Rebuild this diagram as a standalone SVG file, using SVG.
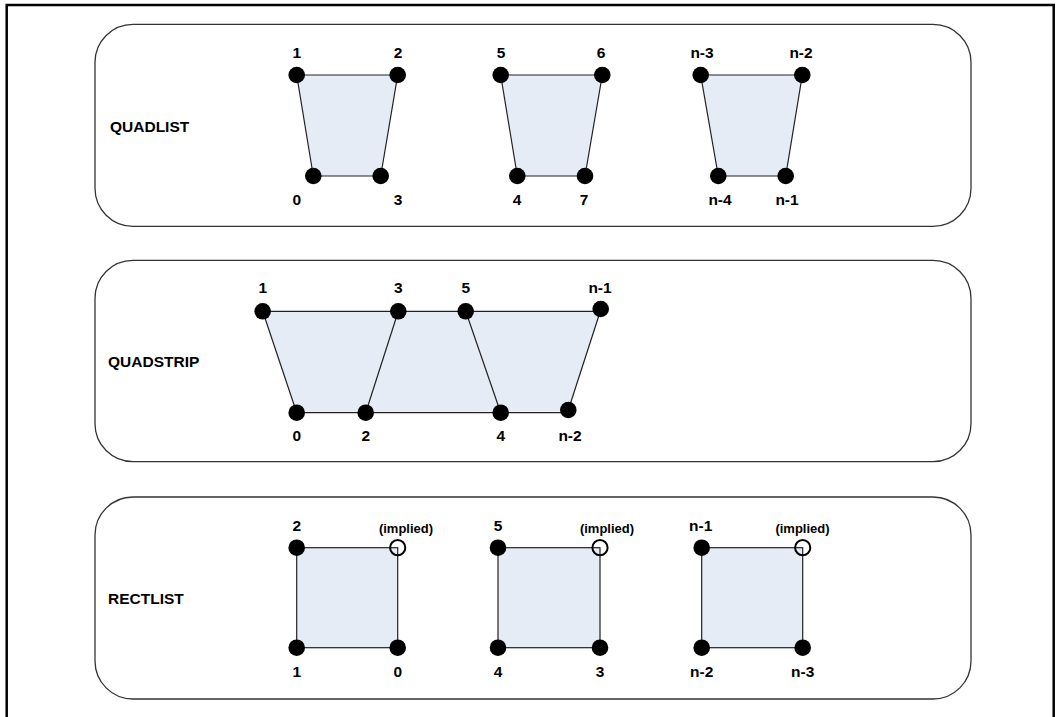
<svg xmlns="http://www.w3.org/2000/svg" width="1060" height="717" viewBox="0 0 1060 717">
<style>
.panel{fill:#fff;stroke:#333;stroke-width:1.3}
.face{fill:#e6ecf6;stroke:none}
.edge{stroke:#222;stroke-width:1.2;fill:none}
.v{fill:#000}
.imp{fill:none;stroke:#000;stroke-width:2}
.t{font-family:"Liberation Sans",Arial,sans-serif;font-weight:bold;font-size:15.5px;fill:#000;text-anchor:middle}
.ts{font-family:"Liberation Sans",Arial,sans-serif;font-weight:bold;font-size:13px;fill:#000;text-anchor:middle}
.title{font-family:"Liberation Sans",Arial,sans-serif;font-weight:bold;font-size:15.5px;fill:#000}
</style>
<rect x="0" y="0" width="1060" height="717" fill="#fff"/>
<rect x="6.7" y="5" width="1047" height="730" fill="none" stroke="#000" stroke-width="2.5"/>

<g id="panels">
<rect class="panel" x="95" y="24.3" width="876" height="202" rx="38" ry="38"/>
<rect class="panel" x="95" y="260.3" width="876" height="201.4" rx="38" ry="38"/>
<rect class="panel" x="95" y="497" width="876" height="202" rx="38" ry="38"/>
</g>

<g id="faces">
<polygon class="face" points="296.7,75 397.7,75 380.7,176 313.3,176"/>
<polygon class="face" points="500.7,75 602.3,75 585,176 517.3,176"/>
<polygon class="face" points="700.7,75 802.3,75 785.7,176 718.3,176"/>
<polygon class="face" points="262.7,311.3 600.7,311.3 568.3,411.5 296.7,412.7"/>
<rect class="face" x="296.7" y="547.7" width="101" height="100"/>
<rect class="face" x="498" y="547.7" width="102" height="100"/>
<rect class="face" x="701.7" y="547.7" width="101" height="100"/>
</g>

<g id="connectors">
<polygon class="edge" points="296.7,75 397.7,75 380.7,176 313.3,176"/>
<polygon class="edge" points="500.7,75 602.3,75 585,176 517.3,176"/>
<polygon class="edge" points="700.7,75 802.3,75 785.7,176 718.3,176"/>
<line class="edge" x1="262.7" y1="311.3" x2="600.7" y2="311.3"/>
<line class="edge" x1="296.7" y1="412.7" x2="568.3" y2="412.7"/>
<line class="edge" x1="262.7" y1="311.3" x2="296.7" y2="412.7"/>
<line class="edge" x1="398.3" y1="311.3" x2="365.7" y2="412.7"/>
<line class="edge" x1="465.7" y1="311.3" x2="500.7" y2="412.7"/>
<line class="edge" x1="600.7" y1="310" x2="568.3" y2="410"/>
<rect class="edge" x="296.7" y="547.7" width="101" height="100"/>
<rect class="edge" x="498" y="547.7" width="102" height="100"/>
<rect class="edge" x="701.7" y="547.7" width="101" height="100"/>
</g>

<g id="quadlist">
<text class="title" x="110" y="131.7">QUADLIST</text>
<g id="ql-v1"><circle class="v" cx="296.7" cy="75" r="8.3"/><text class="t" x="296.7" y="58">1</text></g>
<g id="ql-v2"><circle class="v" cx="397.7" cy="75" r="8.3"/><text class="t" x="398" y="58">2</text></g>
<g id="ql-v0"><circle class="v" cx="313.3" cy="176" r="8.3"/><text class="t" x="296.7" y="204.5">0</text></g>
<g id="ql-v3"><circle class="v" cx="380.7" cy="176" r="8.3"/><text class="t" x="398" y="204.5">3</text></g>
<g id="ql-v5"><circle class="v" cx="500.7" cy="75" r="8.3"/><text class="t" x="501" y="58">5</text></g>
<g id="ql-v6"><circle class="v" cx="602.3" cy="75" r="8.3"/><text class="t" x="601" y="58">6</text></g>
<g id="ql-v4"><circle class="v" cx="517.3" cy="176" r="8.3"/><text class="t" x="517" y="204.5">4</text></g>
<g id="ql-v7"><circle class="v" cx="585" cy="176" r="8.3"/><text class="t" x="584" y="204.5">7</text></g>
<g id="ql-vn3"><circle class="v" cx="700.7" cy="75" r="8.3"/><text class="t" x="702" y="58">n-3</text></g>
<g id="ql-vn2"><circle class="v" cx="802.3" cy="75" r="8.3"/><text class="t" x="801" y="58">n-2</text></g>
<g id="ql-vn4"><circle class="v" cx="718.3" cy="176" r="8.3"/><text class="t" x="720" y="204.5">n-4</text></g>
<g id="ql-vn1"><circle class="v" cx="785.7" cy="176" r="8.3"/><text class="t" x="787" y="204.5">n-1</text></g>
</g>

<g id="quadstrip">
<text class="title" x="108" y="367.4">QUADSTRIP</text>
<g id="qs-v1"><circle class="v" cx="262.7" cy="311.3" r="8.3"/><text class="t" x="262.7" y="293">1</text></g>
<g id="qs-v3"><circle class="v" cx="398.3" cy="311.3" r="8.3"/><text class="t" x="398.3" y="293">3</text></g>
<g id="qs-v5"><circle class="v" cx="465.7" cy="311.3" r="8.3"/><text class="t" x="465.7" y="293">5</text></g>
<g id="qs-vn1"><circle class="v" cx="600.7" cy="309" r="8.3"/><text class="t" x="600" y="293">n-1</text></g>
<g id="qs-v0"><circle class="v" cx="296.7" cy="412.7" r="8.3"/><text class="t" x="296.7" y="441">0</text></g>
<g id="qs-v2"><circle class="v" cx="365.7" cy="412.7" r="8.3"/><text class="t" x="365.7" y="441">2</text></g>
<g id="qs-v4"><circle class="v" cx="500.7" cy="412.7" r="8.3"/><text class="t" x="500.7" y="441">4</text></g>
<g id="qs-vn2"><circle class="v" cx="568.3" cy="410" r="8.3"/><text class="t" x="570" y="441">n-2</text></g>
</g>

<g id="rectlist">
<text class="title" x="108" y="604">RECTLIST</text>
<g id="rl-v2"><circle class="v" cx="296.7" cy="547.7" r="8.3"/><text class="t" x="296.7" y="530.7">2</text></g>
<g id="rl-i1"><circle class="imp" cx="397.7" cy="547.7" r="7.6"/><text class="ts" x="406" y="533">(implied)</text></g>
<g id="rl-v1"><circle class="v" cx="296.7" cy="647.7" r="8.3"/><text class="t" x="296.7" y="676.5">1</text></g>
<g id="rl-v0"><circle class="v" cx="397.7" cy="647.7" r="8.3"/><text class="t" x="397.7" y="676.5">0</text></g>
<g id="rl-v5"><circle class="v" cx="498" cy="547.7" r="8.3"/><text class="t" x="498" y="530.7">5</text></g>
<g id="rl-i2"><circle class="imp" cx="600" cy="547.7" r="7.6"/><text class="ts" x="607" y="533">(implied)</text></g>
<g id="rl-v4"><circle class="v" cx="498" cy="647.7" r="8.3"/><text class="t" x="498" y="676.5">4</text></g>
<g id="rl-v3"><circle class="v" cx="600" cy="647.7" r="8.3"/><text class="t" x="600" y="676.5">3</text></g>
<g id="rl-vn1"><circle class="v" cx="701.7" cy="547.7" r="8.3"/><text class="t" x="700.7" y="530.7">n-1</text></g>
<g id="rl-i3"><circle class="imp" cx="802.7" cy="547.7" r="7.6"/><text class="ts" x="802.5" y="533">(implied)</text></g>
<g id="rl-vn2"><circle class="v" cx="701.7" cy="647.7" r="8.3"/><text class="t" x="701.7" y="676.5">n-2</text></g>
<g id="rl-vn3"><circle class="v" cx="802.7" cy="647.7" r="8.3"/><text class="t" x="802.7" y="676.5">n-3</text></g>
</g>
</svg>
